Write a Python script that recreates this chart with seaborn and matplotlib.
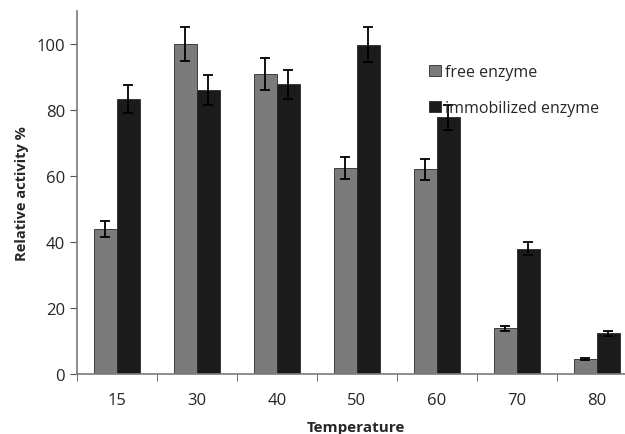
import pandas as pd
import matplotlib.pyplot as plt
import seaborn as sns
import numpy as np

temperatures = ["15", "30", "40", "50", "60", "70", "80"]
free_activity = [44, 100, 91, 62.5, 62, 13.8, 4.6]
free_err = [2.5, 5.2, 4.8, 3.3, 3.3, 0.8, 0.3]
immobilized_activity = [83.3, 86.1, 87.8, 99.8, 77.8, 38, 12.3]
immobilized_err = [4.3, 4.4, 4.4, 5.3, 3.8, 1.9, 0.8]
series_names = ["free enzyme", "immobilized enzyme"]

df = pd.DataFrame({
    "Temperature": temperatures * 2,
    "activity": free_activity + immobilized_activity,
    "err": free_err + immobilized_err,
    "enzyme": [series_names[0]] * 7 + [series_names[1]] * 7,
})

sns.set_style("white")
plt.rcParams["font.family"] = ["Open Sans", "DejaVu Sans"]

fig = plt.figure(figsize=(6.25, 4.35), dpi=100)
ax = fig.add_axes([0.123, 0.138, 0.877, 0.834])

palette = {series_names[0]: "#7b7b7b", series_names[1]: "#1b1b1b"}
sns.barplot(data=df, x="Temperature", y="activity", hue="enzyme", order=temperatures,
            hue_order=series_names, palette=palette, width=0.575, errorbar=None,
            saturation=1, edgecolor="#2a2a2a", linewidth=0.6, ax=ax)

# error bars on top of each bar
for container, name in zip(ax.containers, series_names):
    errs = df[df["enzyme"] == name]["err"].values
    xs = [p.get_x() + p.get_width() / 2 for p in container.patches]
    hs = [p.get_height() for p in container.patches]
    ax.errorbar(xs, hs, yerr=errs, fmt="none", ecolor="black", elinewidth=1.3,
                capsize=3.5, capthick=1.3)

ax.set_ylim(0, 110)
ax.set_xlim(-0.5, 6.35)
ax.set_yticks(np.arange(0, 101, 20))
ax.set_xticks(np.arange(-0.5, 6.5, 1), minor=True)
ax.tick_params(axis="x", which="major", length=0, labelsize=12, pad=13)
ax.tick_params(axis="x", which="minor", length=5, color="#555555", direction="out", bottom=True)
ax.tick_params(axis="y", length=5, color="#555555", direction="out", left=True, labelsize=12)

for s in ["top", "right"]:
    ax.spines[s].set_visible(False)
for s in ["left", "bottom"]:
    ax.spines[s].set_color("#7a7a7a")
    ax.spines[s].set_linewidth(1.2)

ax.set_ylabel("Relative activity %", fontsize=10.5, fontweight="bold")
ax.yaxis.set_label_coords(-0.088, 0.5)
ax.set_xlabel("Temperature", fontsize=11, fontweight="bold")
ax.xaxis.set_label_coords(0.51, -0.128)

leg = ax.legend(loc="upper left", bbox_to_anchor=(0.617, 0.893), frameon=False,
                fontsize=11.5, labelspacing=1.25, handlelength=0.7, handleheight=0.7,
                handletextpad=0.3)

plt.savefig("out.png", dpi=100)
